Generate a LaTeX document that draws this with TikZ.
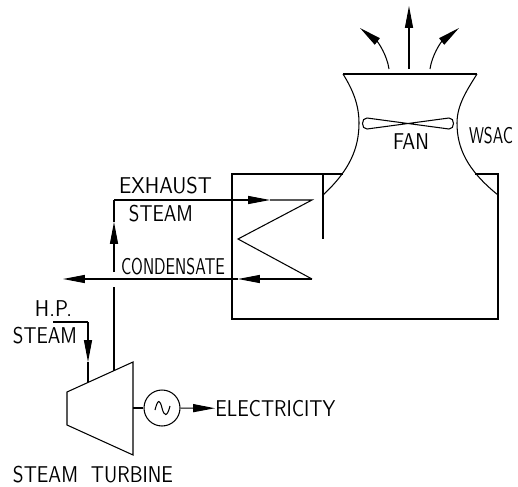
\documentclass[tikz,border=0pt]{standalone}
\usepackage{fontspec}
\usepackage{graphicx}
\usetikzlibrary{arrows.meta}
\tikzset{
  pipe/.style={line width=0.6pt},
  flow/.style={pipe, -{Triangle[length=12.5pt,width=4.6pt]}},
  lbl/.style={inner sep=0pt, font=\fontsize{13}{14}\sffamily},
}
% label text stretched to a width given in reference pixels
\newcommand{\fitlbl}[2]{\resizebox{#1\dimexpr0.02cm\relax}{\height}{#2}}
\begin{document}
\begin{tikzpicture}[x=0.02cm,y=-0.02cm]
  \useasboundingbox (0,0) rectangle (518,487);

  % Tower
  \coordinate (lipL) at (343,74);
  \coordinate (lipR) at (477,74);
  \coordinate (neckL) at (359,123);
  \coordinate (neckR) at (457,123);
  \coordinate (waistL) at (323,195);
  \coordinate (waistR) at (498,195);
  \draw[pipe] (lipL) -- (lipR);
  \draw[pipe] (lipL) .. controls (353,90) and (359,105) .. (neckL)
    .. controls (359,148) and (350,170) .. (waistL);
  \draw[pipe] (lipR) .. controls (467,90) and (457,105) .. (neckR)
    .. controls (457,148) and (467,170) .. (waistR);

  % Discharge arrows
  \coordinate (outC) at (409,69);
  \coordinate (outL) at (389,69);
  \coordinate (outR) at (430,69);
  \coordinate (tipC) at (409,6);
  \coordinate (tipL) at (360,28);
  \coordinate (tipR) at (459,28);
  \draw[flow] (outC) -- (tipC);
  \draw[flow] (outL) .. controls (387,55) and (378,42) .. (tipL);
  \draw[flow] (outR) .. controls (432,55) and (441,42) .. (tipR);

  % Fan
  \draw[pipe] (367,118) -- (449,129) .. controls (455,129.5) and (455,117.5) .. (449,118)
    -- (367,129) .. controls (361,129.5) and (361,117.5) .. (367,118) -- cycle;
  \node[lbl] (fan) at (411,142) {\fitlbl{36}{FAN}};
  \node[lbl] (wsac) at (491,135.5) {\fitlbl{44}{WSAC}};

  % Basin
  \coordinate (boxBL) at (232,319);
  \coordinate (boxTL) at (232,174);
  \coordinate (boxBR) at (498,319);
  \coordinate (boxTR) at (498,174);
  \coordinate (topL) at (343,174);
  \coordinate (topR) at (475,174);
  \coordinate (baffleT) at (323,174);
  \coordinate (baffleB) at (323,239);
  \draw[pipe] (topL) -- (boxTL) -- (boxBL) -- (boxBR) -- (boxTR) -- (topR);
  \draw[pipe] (baffleT) -- (baffleB);

  % Coil and steam lines
  \coordinate (exhStart) at (114,272);
  \coordinate (exhMid) at (114,222);
  \coordinate (exhCorner) at (114,200);
  \coordinate (exhHead) at (270,200);
  \coordinate (coilA) at (312,200);
  \coordinate (coilB) at (238,239);
  \coordinate (coilC) at (312,279);
  \coordinate (condHead) at (238,279);
  \coordinate (condEnd) at (63,279);
  \draw[flow] (exhStart) -- (exhMid);
  \draw[pipe] (exhMid) -- (exhCorner);
  \draw[flow] (exhCorner) -- (exhHead);
  \draw[pipe] (exhHead) -- (coilA) -- (coilB) -- (coilC);
  \draw[flow] (coilC) -- (condHead);
  \draw[flow] (condHead) -- (condEnd);
  \node[lbl] (exhaust) at (165.5,185.5) {\fitlbl{93}{EXHAUST}};
  \node[lbl] (steam) at (161,213.5) {\fitlbl{64}{STEAM}};
  \node[lbl] (condensate) at (173,266.5) {\fitlbl{104}{CONDENSATE}};

  % Turbine
  \coordinate (turbA) at (67,392);
  \coordinate (turbB) at (133,362);
  \coordinate (turbC) at (133,455);
  \coordinate (turbD) at (67,425);
  \coordinate (turbIn) at (88,382);
  \coordinate (turbOut) at (114,371);
  \coordinate (turbShaft) at (133,408);
  \coordinate (exhPipe) at (114,287);
  \draw[pipe] (turbA) -- (turbB) -- (turbC) -- (turbD) -- cycle;
  \draw[pipe] (exhPipe) -- (turbOut);
  \coordinate (hpStart) at (53,322);
  \coordinate (hpCorner) at (88,322);
  \coordinate (hpHead) at (88,362);
  \draw[pipe] (hpStart) -- (hpCorner);
  \draw[flow] (hpCorner) -- (hpHead);
  \draw[pipe] (hpHead) -- (turbIn);
  \node[lbl] (hp) at (53.5,308.5) {\fitlbl{37}{H.P.}};
  \node[lbl] (hpsteam) at (45,336) {\fitlbl{64}{STEAM}};
  \node[lbl] (turbine) at (93,475) {\fitlbl{160}{STEAM\ \ TURBINE}};

  % Generator
  \node[draw,pipe,circle,minimum size=0.72cm,inner sep=0pt] (gen) at (162,408) {};
  \draw[pipe] (turbShaft) -- (gen);
  \draw[pipe] (155,410) .. controls (158,398) and (160,400) .. (162,408)
    .. controls (164,416) and (167,418) .. (170,406);
  \node[lbl,anchor=west] (elec) at (215,408.5) {\fitlbl{120}{ELECTRICITY}};
  \draw[flow] (gen) -- (elec);
\end{tikzpicture}
\end{document}
